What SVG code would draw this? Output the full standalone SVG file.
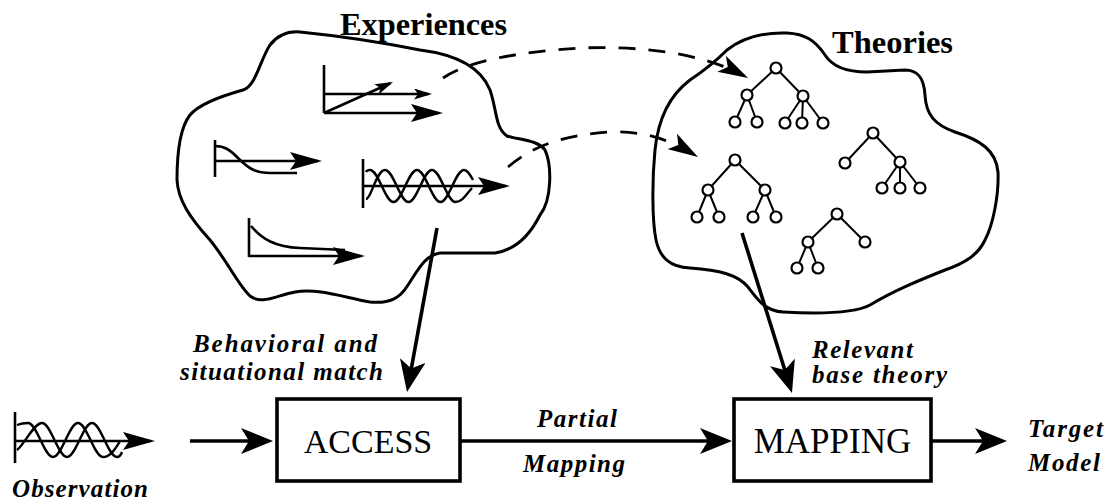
<svg xmlns="http://www.w3.org/2000/svg" width="1108" height="502" viewBox="0 0 1108 502">
<style>
.blob{fill:none;stroke:#000;stroke-width:3;stroke-linejoin:round}
.g{fill:none;stroke:#000;stroke-width:2.6;stroke-linecap:butt}
.w{fill:none;stroke:#000;stroke-width:2.4}
.main{fill:none;stroke:#000;stroke-width:3.6}
.dash{fill:none;stroke:#000;stroke-width:2.8;stroke-dasharray:17 13}
.box{fill:#fff;stroke:#000;stroke-width:3.6}
.edge{stroke:#000;stroke-width:2}
.nd{fill:#fff;stroke:#000;stroke-width:2.2}
.title{font-family:"Liberation Serif",serif;font-weight:bold;font-size:32px;fill:#000}
.boxt{font-family:"Liberation Serif",serif;fill:#000}
.lab{font-family:"Liberation Serif",serif;font-style:italic;font-weight:bold;font-size:25px;fill:#000}
</style>
<defs>
<marker id="big" markerUnits="userSpaceOnUse" markerWidth="32" markerHeight="26" viewBox="0 0 32 26" refX="26" refY="13" orient="auto"><path d="M0,0 L32,13 L0,26 L8,13 Z" fill="#000"/></marker>
<marker id="mid" markerUnits="userSpaceOnUse" markerWidth="32" markerHeight="18" viewBox="0 0 32 18" refX="28" refY="9" orient="auto"><path d="M0,0 L32,9 L0,18 L6,9 Z" fill="#000"/></marker>
<marker id="small" markerUnits="userSpaceOnUse" markerWidth="18" markerHeight="11" viewBox="0 0 18 11" refX="15" refY="5.5" orient="auto"><path d="M0,0 L18,5.5 L0,11 L4,5.5 Z" fill="#000"/></marker>
<marker id="dhead" markerUnits="userSpaceOnUse" markerWidth="30" markerHeight="18" viewBox="0 0 30 18" refX="26" refY="9" orient="auto"><path d="M0,0 L30,9 L0,18 L7,9 Z" fill="#000"/></marker>
</defs>
<rect width="1108" height="502" fill="#fff"/>

<g id="experiences">
<path class="blob" d="M 300,32 C 340,36 380,42 420,50 C 460,55 482,70 490,90 C 497,110 495,128 507,136 C 520,140 538,140 545,150 C 552,165 552,200 540,215 C 530,235 515,250 495,253 L 440,253 C 425,255 418,270 408,285 C 400,298 390,304 370,302 C 345,298 320,288 295,292 C 275,296 262,305 250,296 C 238,285 228,262 210,240 C 190,218 178,200 177,180 C 177,160 178,130 190,115 C 200,103 225,95 243,90 C 256,86 260,60 270,45 C 277,36 287,31 300,32 Z"/>
<text class="title" x="340" y="35" textLength="167" lengthAdjust="spacingAndGlyphs">Experiences</text>
<g id="exp-ramp">
<path class="g" d="M 324,65 L 324,113"/>
<path class="g" d="M 324,94 L 429,94" marker-end="url(#small)"/>
<path class="g" d="M 324,113 L 439,113" marker-end="url(#mid)"/>
<path class="g" d="M 324,113 L 390.3,83.2" marker-end="url(#small)"/>
</g>
<g id="exp-step">
<path class="g" d="M 215,140 L 215,177"/>
<path class="g" d="M 215,161 L 318,161" marker-end="url(#mid)"/>
<path class="g" d="M 215,146 C 225,146 230,150 238,158 C 248,168 255,173 270,173 L 297,173"/>
</g>
<g id="exp-wave">
<path class="g" d="M 363,159 L 363,208"/>
<path class="g" d="M 363,186 L 506,186" marker-end="url(#mid)"/>
<path class="w" d="M 366,172 C 367,170 368,170 370,170 C 378.5,170 385,202 393.5,202 C 402,202 408.5,170 417,170 C 425.5,170 432,202 440.5,202 C 449,202 455.5,170 464,170 C 468,170 470,175 473,180"/>
<path class="w" d="M 366,199 C 371,199 376.5,170 385,170 C 393.5,170 400,202 408.5,202 C 417,202 423.5,170 432,170 C 440.5,170 447,202 455.5,202 C 462,202 466,195 472,188"/>
</g>
<g id="exp-decay">
<path class="g" d="M 249,218 L 249,257"/>
<path class="g" d="M 249,256 L 361,256" marker-end="url(#mid)"/>
<path class="g" d="M 251,226 C 262,239 275,247 300,248 L 345,250"/>
</g>
</g>

<g id="theories">
<path class="blob" d="M 727,50 C 740,40 760,32 787,33 C 805,34 815,40 825,55 C 832,66 845,72 867,72 L 905,70 C 918,70 924,78 925,95 C 926,115 935,125 955,132 C 980,140 996,150 998,172 C 999,195 993,225 985,240 C 978,255 965,263 945,270 C 920,280 895,290 870,305 C 855,313 820,314 783,312 C 765,311 758,300 748,287 C 738,275 720,270 690,268 C 670,267 660,258 656,240 C 652,220 652,180 655,150 C 658,120 670,95 690,80 C 705,70 717,60 727,50 Z"/>
<text class="title" x="832" y="53" textLength="121" lengthAdjust="spacingAndGlyphs">Theories</text>
<g id="tree1">
<path class="edge" d="M776,68 L747,95 M776,68 L803,96 M747,95 L735,122 M747,95 L757,122 M803,96 L785,123 M803,96 L802,123 M803,96 L823,123"/>
<circle class="nd" cx="776" cy="68" r="5.5"/><circle class="nd" cx="747" cy="95" r="5.5"/><circle class="nd" cx="803" cy="96" r="5.5"/>
<circle class="nd" cx="735" cy="122" r="5.5"/><circle class="nd" cx="757" cy="122" r="5.5"/><circle class="nd" cx="785" cy="123" r="5.5"/><circle class="nd" cx="802" cy="123" r="5.5"/><circle class="nd" cx="823" cy="123" r="5.5"/>
</g>
<g id="tree2">
<path class="edge" d="M735,160 L708,190 M735,160 L765,190 M708,190 L697,217 M708,190 L719,217 M765,190 L753,217 M765,190 L776,217"/>
<circle class="nd" cx="735" cy="160" r="5.5"/><circle class="nd" cx="708" cy="190" r="5.5"/><circle class="nd" cx="765" cy="190" r="5.5"/>
<circle class="nd" cx="697" cy="217" r="5.5"/><circle class="nd" cx="719" cy="217" r="5.5"/><circle class="nd" cx="753" cy="217" r="5.5"/><circle class="nd" cx="776" cy="217" r="5.5"/>
</g>
<g id="tree3">
<path class="edge" d="M873,133 L845,163 M873,133 L900,162 M900,162 L882,188 M900,162 L900,188 M900,162 L920,188"/>
<circle class="nd" cx="873" cy="133" r="5.5"/><circle class="nd" cx="845" cy="163" r="5.5"/><circle class="nd" cx="900" cy="162" r="5.5"/>
<circle class="nd" cx="882" cy="188" r="5.5"/><circle class="nd" cx="900" cy="188" r="5.5"/><circle class="nd" cx="920" cy="188" r="5.5"/>
</g>
<g id="tree4">
<path class="edge" d="M837,214 L808,242 M837,214 L865,242 M808,242 L797,268 M808,242 L818,268"/>
<circle class="nd" cx="837" cy="214" r="5.5"/><circle class="nd" cx="808" cy="242" r="5.5"/><circle class="nd" cx="865" cy="242" r="5.5"/>
<circle class="nd" cx="797" cy="268" r="5.5"/><circle class="nd" cx="818" cy="268" r="5.5"/>
</g>
</g>

<g id="observation">
<path class="g" d="M 15,412 L 15,463"/>
<path class="g" d="M 15,441 L 151,441" marker-end="url(#mid)"/>
<path class="w" d="M 17,425 C 22,423 25,423 28,423 C 37,423 44,457 53,457 C 62,457 69,423 78,423 C 87,423 94,457 103,457 C 110,457 115,450 120,441"/>
<path class="w" d="M 17,450 C 24,445 34,423 42,423 C 51,423 58,457 67,457 C 76,457 83,423 92,423 C 101,423 108,457 117,457 C 119,457 121,455 122,452"/>
<text class="lab" x="12" y="497" font-size="26" textLength="136" lengthAdjust="spacing">Observation</text>
</g>

<g id="access">
<rect class="box" x="277" y="399" width="183" height="82"/>
<text class="boxt" x="368" y="453" font-size="34" text-anchor="middle">ACCESS</text>
</g>

<g id="mapping">
<rect class="box" x="734" y="399" width="197" height="82"/>
<text class="boxt" x="832.5" y="453" font-size="35" text-anchor="middle">MAPPING</text>
</g>

<g id="target">
<text class="lab" x="1028" y="437" textLength="75" lengthAdjust="spacing">Target</text>
<text class="lab" x="1028" y="471" textLength="72" lengthAdjust="spacing">Model</text>
</g>

<g id="connectors">
<path class="dash" d="M 443,78 C 470,60 520,52 580,48 C 640,46 700,52 744.5,76.1" marker-end="url(#dhead)"/>
<path class="dash" d="M 508,167 C 530,148 560,135 610,132 C 640,131 665,137 694.6,154.9" marker-end="url(#dhead)"/>
<path class="main" d="M 437,228 L 408.1,386.1" marker-end="url(#big)"/>
<path class="main" d="M 742,233 L 790.2,387.3" marker-end="url(#big)"/>
<path class="main" d="M 190,441 L 267,441" marker-end="url(#big)"/>
<path class="main" d="M 460,441 L 726,441" marker-end="url(#big)"/>
<path class="main" d="M 931,441 L 1001,441" marker-end="url(#big)"/>
<text class="lab" x="193" y="352" textLength="184" lengthAdjust="spacing">Behavioral and</text>
<text class="lab" x="180" y="380" textLength="203" lengthAdjust="spacing">situational match</text>
<text class="lab" x="812" y="358" font-size="24" textLength="101" lengthAdjust="spacing">Relevant</text>
<text class="lab" x="812" y="383" font-size="24" textLength="135" lengthAdjust="spacing">base theory</text>
<text class="lab" x="537" y="427" textLength="80" lengthAdjust="spacing">Partial</text>
<text class="lab" x="523" y="472" textLength="102" lengthAdjust="spacing">Mapping</text>
</g>
</svg>
